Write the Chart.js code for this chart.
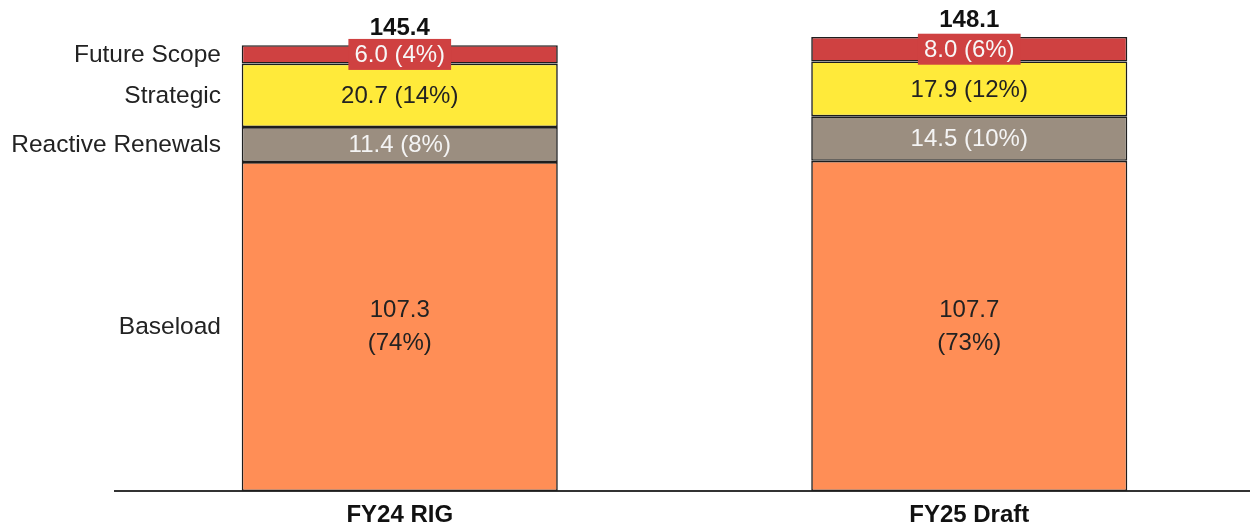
<!DOCTYPE html>
<html>
<head>
<meta charset="utf-8">
<script src="https://cdn.jsdelivr.net/npm/chart.js@4.4.0/dist/chart.umd.min.js"></script>
<style>
  html, body { margin: 0; padding: 0; background: #fff; }
  #wrap { width: 1250px; height: 528px; position: relative; }
</style>
</head>
<body>
<div id="wrap"><canvas id="grafico"></canvas></div>
<script>
// dati
const categorie = ["FY24 RIG", "FY25 Draft"];
const serie = ["Baseload", "Reactive Renewals", "Strategic", "Future Scope"];
const baseload = [107.3, 107.7];
const reactive = [11.4, 14.5];
const strategic = [20.7, 17.9];
const future = [6.0, 8.0];
const pctBaseload = ["74%", "73%"];
const pctReactive = ["8%", "10%"];
const pctStrategic = ["14%", "12%"];
const pctFuture = ["4%", "6%"];
const totali = [145.4, 148.1];

const colori = ["#FF8E56", "#9B8E80", "#FFEA3A", "#CF4141"];
const coloriTesto = ["#222222", "#f4f4f4", "#222222", "#f7f7f7"];
const valori = [baseload, reactive, strategic, future];
const percentuali = [pctBaseload, pctReactive, pctStrategic, pctFuture];

const FONT = "'Liberation Sans', Arial, sans-serif";

// l'asse x nell'originale va un po' oltre il bordo destro
const allarga = {
	id: "allarga",
	afterLayout(chart) {
		const x = chart.scales.x;
		x.right = chart.width + 4;
		x.width = x.right - x.left;
		x.configure();
	}
};

// etichette dentro le barre, totali sopra e nomi serie a sinistra
const etichette = {
	id: "etichette",
	afterDatasetsDraw(chart) {
		const ctx = chart.ctx;
		ctx.save();
		ctx.textAlign = "center";
		ctx.textBaseline = "middle";
		ctx.font = "24px " + FONT;
		for (let d = 0; d < chart.data.datasets.length; d++) {
			const meta = chart.getDatasetMeta(d);
			meta.data.forEach(function(bar, i) {
				const cy = (bar.y + bar.base) / 2;
				const v = valori[d][i].toFixed(1);
				const p = "(" + percentuali[d][i] + ")";
				if (d == 0) {
					ctx.fillStyle = coloriTesto[d];
					ctx.fillText(v, bar.x, cy - 16);
					ctx.fillText(p, bar.x, cy + 17);
				} else {
					const txt = v + " " + p;
					if (d == 3) {
						const w = ctx.measureText(txt).width + 12;
						ctx.fillStyle = colori[d];
						ctx.fillRect(bar.x - w / 2, cy - 15.5, w, 31);
					}
					ctx.fillStyle = coloriTesto[d];
					ctx.fillText(txt, bar.x, cy + 1);
				}
			});
		}
		// totali
		const top = chart.getDatasetMeta(3);
		ctx.font = "bold 24px " + FONT;
		ctx.fillStyle = "#111";
		top.data.forEach(function(bar, i) {
			ctx.fillText(totali[i].toFixed(1), bar.x, bar.y - 17);
		});
		// nomi serie a sinistra della prima barra
		ctx.font = "24.5px " + FONT;
		ctx.textAlign = "right";
		ctx.fillStyle = "#222";
		for (let d = 0; d < serie.length; d++) {
			const bar = chart.getDatasetMeta(d).data[0];
			ctx.fillText(serie[d], 221, (bar.y + bar.base) / 2 + 1);
		}
		ctx.restore();
	}
};

new Chart(document.getElementById("grafico"), {
	type: "bar",
	data: {
		labels: categorie,
		datasets: serie.map(function(nome, d) {
			return {
				label: nome,
				data: valori[d],
				backgroundColor: colori[d],
				borderColor: "#1e1e1e",
				borderWidth: 1.6,
				borderSkipped: false,
				barPercentage: 0.555,
				categoryPercentage: 1
			};
		})
	},
	options: {
		responsive: true,
		maintainAspectRatio: false,
		animation: false,
		layout: { padding: { left: 115, top: 2, right: 0, bottom: 0 } },
		plugins: {
			legend: { display: false },
			tooltip: { enabled: false }
		},
		scales: {
			x: {
				stacked: true,
				grid: { display: false, drawTicks: false },
				border: { display: true, color: "#333", width: 2 },
				afterFit: function(scale) { scale.height = 37; },
				ticks: {
					color: "#111",
					padding: 10,
					font: { family: FONT, size: 24, weight: "bold" }
				}
			},
			y: {
				stacked: true,
				display: false,
				min: 0,
				max: 159.5
			}
		}
	},
	plugins: [allarga, etichette]
});
</script>
</body>
</html>
